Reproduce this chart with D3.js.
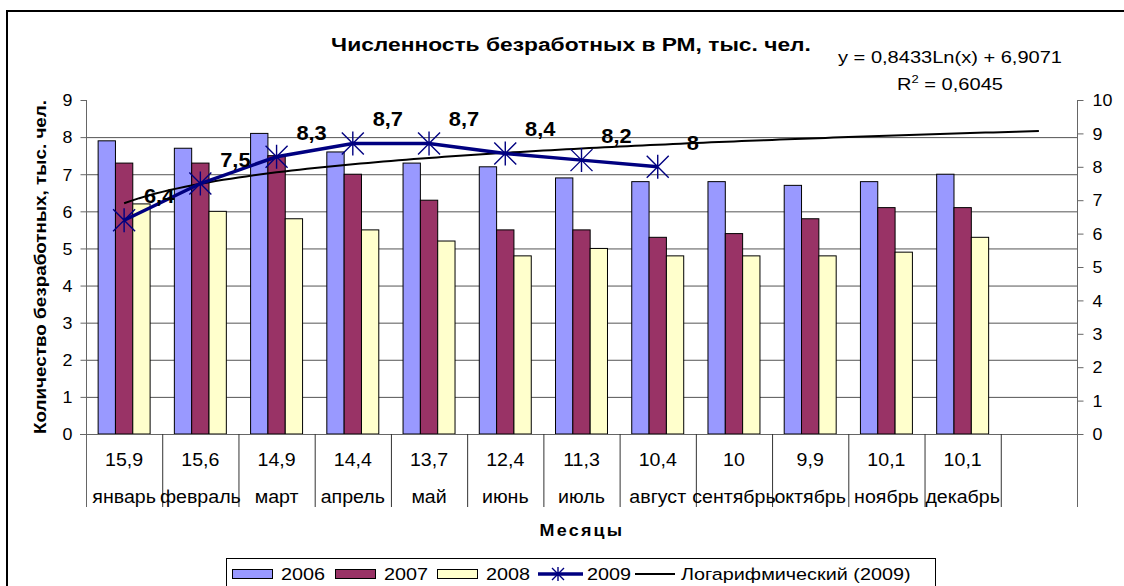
<!DOCTYPE html>
<html>
<head>
<meta charset="utf-8">
<script src="https://cdn.jsdelivr.net/npm/d3@7"></script>
<style>
  body { margin: 0; background: #fff; }
  svg text { font-family: "Liberation Sans", Arial, sans-serif; fill: #000; }
</style>
</head>
<body>
<div id="chart"></div>
<script>
// данные диаграммы
const months = ["январь", "февраль", "март", "апрель", "май", "июнь", "июль", "август", "сентябрь", "октябрь", "ноябрь", "декабрь"];
const tableValues = [15.9, 15.6, 14.9, 14.4, 13.7, 12.4, 11.3, 10.4, 10, 9.9, 10.1, 10.1];
const years = ["2006", "2007", "2008"];
const v2006 = [7.9, 7.7, 8.1, 7.6, 7.3, 7.2, 6.9, 6.8, 6.8, 6.7, 6.8, 7.0];
const v2007 = [7.3, 7.3, 7.5, 7.0, 6.3, 5.5, 5.5, 5.3, 5.4, 5.8, 6.1, 6.1];
const v2008 = [6.2, 6.0, 5.8, 5.5, 5.2, 4.8, 5.0, 4.8, 4.8, 4.8, 4.9, 5.3];
const v2009 = [6.4, 7.5, 8.3, 8.7, 8.7, 8.4, 8.2, 8];
const leftTicks = [0, 1, 2, 3, 4, 5, 6, 7, 8, 9];
const rightTicks = [0, 1, 2, 3, 4, 5, 6, 7, 8, 9, 10];
const trendA = 0.8433, trendB = 6.9071, trendR2 = 0.6045;

const barColors = { "2006": "#9999ff", "2007": "#993366", "2008": "#ffffcc" };
const navy = "#000080";
const fmt = v => String(v).replace(".", ",");

const width = 1124, height = 586;
const pLeft = 86, pRight = 1077, pTop = 100, pBottom = 434;

const svg = d3.select("#chart").append("svg")
    .attr("width", width).attr("height", height);

// текст, растянутый по горизонтали (как в исходном рисунке)
function label(g, x, y, s, size, sx, anchor, bold) {
    return g.append("text")
        .attr("transform", `translate(${x},${y}) scale(${sx},1)`)
        .attr("text-anchor", anchor || "start")
        .attr("font-size", size)
        .attr("font-weight", bold ? "bold" : null)
        .text(s);
}

// рамка диаграммы
svg.append("path")
    .attr("d", `M7,${height + 5}V11H${width + 5}`)
    .attr("fill", "none").attr("stroke", "#000").attr("stroke-width", 2);

// 13 категорий: последняя пустая (туда доходит линия тренда)
const cats = months.concat([""]);
const x = d3.scaleBand().domain(d3.range(cats.length)).range([pLeft, pRight]).padding(0);
const bw = x.bandwidth();
const xs = d3.scaleBand().domain(years).range([0, bw]).paddingInner(0).paddingOuter(0.7);
const yL = d3.scaleLinear().domain([0, 9]).range([pBottom, pTop]);
const yR = d3.scaleLinear().domain([0, 10]).range([pBottom, pTop]);

// сетка
svg.append("g").selectAll("line")
    .data(leftTicks.filter(t => t > 0 && t < 9))
    .enter().append("line")
    .attr("x1", pLeft).attr("x2", pRight)
    .attr("y1", d => yL(d) + 0.5).attr("y2", d => yL(d) + 0.5)
    .attr("stroke", "#555").attr("stroke-width", 1);

// столбцы
const seriesBars = [v2006, v2007, v2008];
years.forEach((yr, si) => {
    svg.append("g").selectAll("rect")
        .data(seriesBars[si])
        .enter().append("rect")
        .attr("x", (d, i) => x(i) + xs(yr))
        .attr("width", xs.bandwidth())
        .attr("y", d => yL(d))
        .attr("height", d => pBottom - yL(d))
        .attr("fill", barColors[yr])
        .attr("stroke", "#000").attr("stroke-width", 1);
});

// левая ось
const axL = svg.append("g").attr("transform", `translate(${pLeft + 0.5},0)`)
    .call(d3.axisLeft(yL).tickValues(leftTicks).tickSize(6));
axL.select(".domain").remove();
axL.selectAll("line").attr("stroke", "#666");
axL.selectAll("text").attr("x", null).attr("dy", "0.34em")
    .attr("transform", "translate(-14,0) scale(1.05,1)")
    .attr("font-size", 17).attr("font-family", "Liberation Sans, Arial");
svg.append("line").attr("x1", pLeft + 0.5).attr("x2", pLeft + 0.5).attr("y1", pTop).attr("y2", 507)
    .attr("stroke", "#666");

// правая ось
const axR = svg.append("g").attr("transform", `translate(${pRight + 0.5},0)`)
    .call(d3.axisRight(yR).tickValues(rightTicks).tickSize(6));
axR.select(".domain").remove();
axR.selectAll("line").attr("stroke", "#666");
axR.selectAll("text").attr("x", null).attr("dy", "0.34em")
    .attr("transform", "translate(15,0) scale(1.05,1)")
    .attr("font-size", 17).attr("font-family", "Liberation Sans, Arial");
svg.append("line").attr("x1", pRight + 0.5).attr("x2", pRight + 0.5).attr("y1", pTop).attr("y2", 507)
    .attr("stroke", "#666");

// нижняя ось и таблица категорий
svg.append("line").attr("x1", pLeft - 6).attr("x2", pRight + 6).attr("y1", pBottom + 0.5).attr("y2", pBottom + 0.5)
    .attr("stroke", "#666");
svg.append("g").selectAll("line")
    .data(d3.range(1, cats.length))
    .enter().append("line")
    .attr("x1", d => x(d) + 0.5).attr("x2", d => x(d) + 0.5)
    .attr("y1", pBottom).attr("y2", 507)
    .attr("stroke", "#333");
const tbl = svg.append("g");
tableValues.forEach((v, i) => label(tbl, x(i) + bw / 2, 466, fmt(v), 17.5, 1.12, "middle"));
months.forEach((m, i) => label(tbl, x(i) + bw / 2, 503, m, 17.5, 1.12, "middle"));

// линия тренда (логарифмическая, по уравнению на диаграмме)
const trendX = d3.range(1, cats.length + 0.001, 0.1);
const cx = n => x(0) + bw / 2 + (n - 1) * bw;
svg.append("path")
    .datum(trendX)
    .attr("d", d3.line().x(n => cx(n)).y(n => yR(trendA * Math.log(n) + trendB)))
    .attr("fill", "none").attr("stroke", "#000").attr("stroke-width", 2);

// ряд 2009
svg.append("path")
    .datum(v2009)
    .attr("d", d3.line().x((d, i) => x(i) + bw / 2).y(d => yR(d)))
    .attr("fill", "none").attr("stroke", navy).attr("stroke-width", 3.5);
const star = (r) => `M${-r},${-r}L${r},${r}M${-r},${r}L${r},${-r}M0,${-r - 1}V${r + 1}`;
svg.append("g").selectAll("path")
    .data(v2009)
    .enter().append("path")
    .attr("transform", (d, i) => `translate(${x(i) + bw / 2},${yR(d)})`)
    .attr("d", star(11))
    .attr("fill", "none").attr("stroke", navy).attr("stroke-width", 1.4);
const dl = svg.append("g");
v2009.forEach((v, i) => label(dl, x(i) + bw / 2 + 35, yR(v) - 17, fmt(v), 19.5, 1.12, "middle", true));

// заголовки
label(svg, 571, 51, "Численность безработных в РМ, тыс. чел.", 19, 1.2, "middle", true);
label(svg, 950, 63, `y = ${fmt(trendA)}Ln(x) + ${fmt(trendB)}`, 17, 1.18, "middle");
const r2 = label(svg, 950, 90, "", 17, 1.18, "middle");
r2.append("tspan").text("R");
r2.append("tspan").attr("dy", -7).attr("font-size", 11).text("2");
r2.append("tspan").attr("dy", 7).text(` = ${fmt(trendR2)}`);
svg.append("text")
    .attr("transform", "translate(46,267) rotate(-90) scale(1.18,1)")
    .attr("text-anchor", "middle").attr("font-size", 16).attr("font-weight", "bold")
    .text("Количество безработных, тыс. чел.");
label(svg, 582, 536, "Месяцы", 16, 1.12, "middle", true).attr("letter-spacing", 2);

// легенда
const lg = svg.append("g");
lg.append("rect").attr("x", 226.5).attr("y", 558.5).attr("width", 709).attr("height", 40)
    .attr("fill", "#fff").attr("stroke", "#000");
const legendItems = [
    { name: "2006", type: "bar", x: 232 },
    { name: "2007", type: "bar", x: 335 },
    { name: "2008", type: "bar", x: 437 },
    { name: "2009", type: "line", x: 538 },
    { name: "Логарифмический (2009)", type: "trend", x: 635 }
];
legendItems.forEach(it => {
    if (it.type === "bar") {
        lg.append("rect").attr("x", it.x + 0.5).attr("y", 569.5).attr("width", 40).attr("height", 9)
            .attr("fill", barColors[it.name]).attr("stroke", "#000");
    } else if (it.type === "line") {
        lg.append("line").attr("x1", it.x).attr("x2", it.x + 45).attr("y1", 574).attr("y2", 574)
            .attr("stroke", navy).attr("stroke-width", 3.5);
        lg.append("path").attr("transform", `translate(${it.x + 20},574)`).attr("d", star(6))
            .attr("fill", "none").attr("stroke", navy).attr("stroke-width", 1.4);
    } else {
        lg.append("line").attr("x1", it.x).attr("x2", it.x + 40).attr("y1", 574).attr("y2", 574)
            .attr("stroke", "#000").attr("stroke-width", 2);
    }
    label(lg, it.x + (it.type === "bar" ? 49 : it.type === "line" ? 49 : 46), 580, it.name, 16.5, 1.2);
});
</script>
</body>
</html>
